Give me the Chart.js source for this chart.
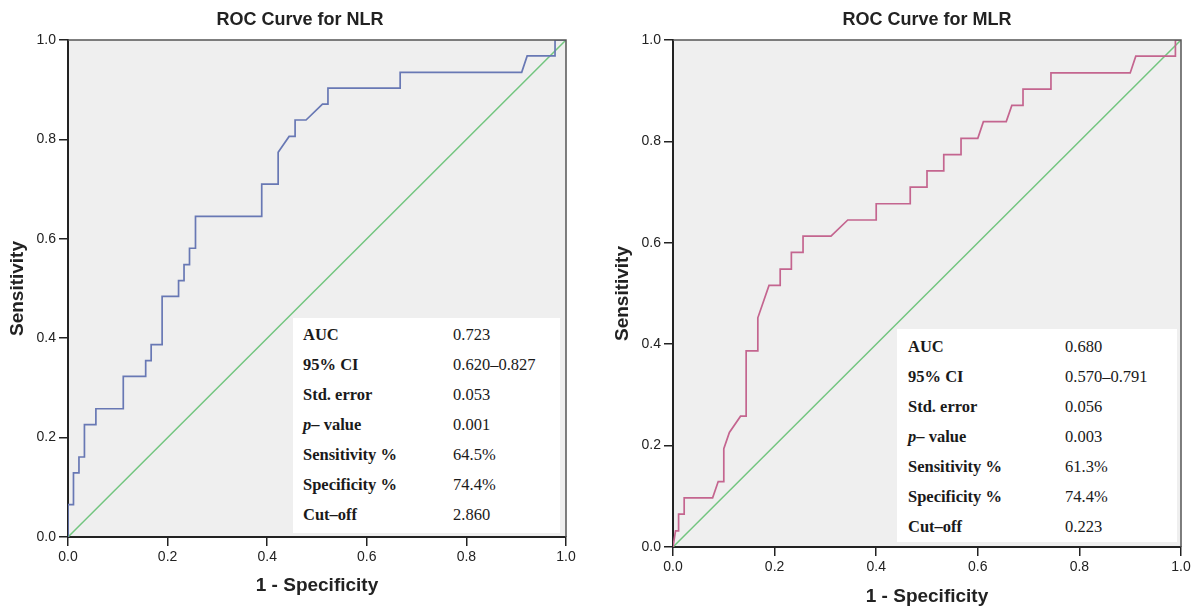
<!DOCTYPE html>
<html lang="en">
<head>
    <meta charset="UTF-8">
    <title>ROC Curves - NLR and MLR</title>
    <script src="https://cdn.jsdelivr.net/npm/chart.js"></script>
    <style>
        body { margin: 0; width: 1202px; height: 610px; position: relative; background: #fff; overflow: hidden; }
        canvas { position: absolute; top: 0; }
        .stats { position: absolute; background: #fff; font-family: "Liberation Serif", "Times New Roman", serif; font-size: 16.5px; color: #1a1a1a; }
        .stats table { border-collapse: collapse; }
        .stats td { height: 30px; padding: 0; white-space: nowrap; }
        .stats td.lbl { font-weight: bold; }
    </style>
</head>
<body>
<canvas id="nlrChart" width="600" height="610" style="left:0"></canvas>
<canvas id="mlrChart" width="602" height="610" style="left:600px"></canvas>
<div class="stats" id="nlrStats" style="left:293px; top:318px; width:267px; height:215px; padding:2px 0 0 10px; box-sizing:border-box"></div>
<div class="stats" id="mlrStats" style="left:897px; top:329px; width:280px; height:213px; padding:3px 0 0 11px; box-sizing:border-box"></div>

<script>
    // ROC points (1 - specificity, sensitivity)
    const nlrFpr = [0, 0, 0.011, 0.011, 0.022, 0.022, 0.033, 0.033, 0.056, 0.056, 0.111, 0.111, 0.156, 0.156, 0.167, 0.167,
        0.189, 0.189, 0.222, 0.222, 0.233, 0.233, 0.244, 0.244, 0.256, 0.256, 0.389, 0.389, 0.422, 0.422, 0.444, 0.456,
        0.456, 0.478, 0.511, 0.522, 0.522, 0.667, 0.667, 0.911, 0.922, 0.978, 0.978, 1];
    const nlrTpr = [0, 0.065, 0.065, 0.129, 0.129, 0.161, 0.161, 0.226, 0.226, 0.258, 0.258, 0.323, 0.323, 0.355, 0.355, 0.387,
        0.387, 0.484, 0.484, 0.516, 0.516, 0.548, 0.548, 0.581, 0.581, 0.645, 0.645, 0.710, 0.710, 0.774, 0.806, 0.806,
        0.839, 0.839, 0.871, 0.871, 0.903, 0.903, 0.935, 0.935, 0.968, 0.968, 1, 1];

    const mlrFpr = [0, 0.005, 0.011, 0.011, 0.022, 0.022, 0.078, 0.089, 0.100, 0.100, 0.111, 0.133, 0.144, 0.144, 0.167, 0.167,
        0.189, 0.211, 0.211, 0.233, 0.233, 0.256, 0.256, 0.311, 0.344, 0.400, 0.400, 0.467, 0.467, 0.500, 0.500, 0.533,
        0.533, 0.567, 0.567, 0.600, 0.611, 0.656, 0.667, 0.689, 0.689, 0.744, 0.744, 0.900, 0.911, 0.989, 0.989, 1];
    const mlrTpr = [0, 0.032, 0.032, 0.065, 0.065, 0.097, 0.097, 0.129, 0.129, 0.194, 0.226, 0.258, 0.258, 0.387, 0.387, 0.452,
        0.516, 0.516, 0.548, 0.548, 0.581, 0.581, 0.613, 0.613, 0.645, 0.645, 0.677, 0.677, 0.710, 0.710, 0.742, 0.742,
        0.774, 0.774, 0.806, 0.806, 0.839, 0.839, 0.871, 0.871, 0.903, 0.903, 0.935, 0.935, 0.968, 0.968, 1, 1];

    const refFpr = [0, 1];
    const refTpr = [0, 1];

    const statLabels = ['AUC', '95% CI', 'Std. error', 'p– value', 'Sensitivity %', 'Specificity %', 'Cut–off'];
    const nlrStats = ['0.723', '0.620–0.827', '0.053', '0.001', '64.5%', '74.4%', '2.860'];
    const mlrStats = ['0.680', '0.570–0.791', '0.056', '0.003', '61.3%', '74.4%', '0.223'];

    Chart.defaults.font.family = '"Liberation Sans", Arial, sans-serif';
    Chart.defaults.color = '#222';

    // grey plot area and the box round it
    const plotFrame = {
        id: 'plotFrame',
        beforeDraw(chart) {
            const a = chart.chartArea, ctx = chart.ctx;
            ctx.save();
            ctx.fillStyle = '#efefef';
            ctx.fillRect(a.left, a.top, a.right - a.left, a.bottom - a.top);
            ctx.restore();
        },
        afterDatasetsDraw(chart) {
            const a = chart.chartArea, ctx = chart.ctx;
            ctx.save();
            ctx.strokeStyle = '#555';
            ctx.lineWidth = 1.5;
            ctx.beginPath();
            ctx.moveTo(a.left, a.top);
            ctx.lineTo(a.right, a.top);
            ctx.lineTo(a.right, a.bottom);
            ctx.stroke();
            ctx.restore();
        }
    };

    function points(xs, ys) {
        return xs.map((x, i) => ({ x: x, y: ys[i] }));
    }

    function makeChart(id, title, fpr, tpr, curveColor, box) {
        const axis = (w, h, titleText, titlePad) => ({
            type: 'linear',
            min: 0,
            max: 1,
            afterFit(scale) {
                if (w) scale.width = w;
                if (h) scale.height = h;
            },
            ticks: {
                stepSize: 0.2,
                padding: 3,
                font: { size: 14 },
                color: '#222',
                callback: v => v.toFixed(1)
            },
            grid: { drawOnChartArea: false, drawTicks: true, tickLength: 9, color: '#222', lineWidth: 1.5 },
            border: { display: true, color: '#222', width: 2 },
            title: { display: true, text: titleText, font: { size: 19, weight: 'bold' }, color: '#222', padding: titlePad }
        });

        const scales = {
            x: axis(0, box.xh, '1 - Specificity', { top: 0, bottom: box.xtPad }),
            y: axis(box.yw, 0, 'Sensitivity', { top: box.ytPad, bottom: 0 })
        };
        // empty right-hand axis keeps the space to the right of the plot
        if (box.rightAxis) {
            scales.y2 = {
                type: 'linear', position: 'right', min: 0, max: 1,
                afterFit(scale) { scale.width = box.rightAxis; },
                ticks: { display: false },
                grid: { display: false, drawTicks: false },
                border: { display: false }
            };
        }

        return new Chart(document.getElementById(id), {
            type: 'scatter',
            data: {
                datasets: [
                    {
                        data: points(fpr, tpr),
                        showLine: true,
                        borderColor: curveColor,
                        borderWidth: 1.7,
                        pointRadius: 0,
                        order: 1
                    },
                    {
                        data: points(refFpr, refTpr),
                        showLine: true,
                        borderColor: '#72c57f',
                        borderWidth: 1.5,
                        pointRadius: 0,
                        order: 2
                    }
                ]
            },
            options: {
                responsive: false,
                animation: false,
                layout: { padding: { left: 0, right: box.right, top: 0, bottom: 0 } },
                scales: scales,
                plugins: {
                    legend: { display: false },
                    tooltip: { enabled: false },
                    title: {
                        display: true,
                        text: title,
                        fullSize: box.fullTitle,
                        font: { size: 18, weight: 'bold' },
                        color: '#222',
                        padding: { top: 9, bottom: 9.4 }
                    }
                }
            },
            plugins: [plotFrame]
        });
    }

    function fillStats(id, values, labelWidth) {
        let html = '<table>';
        statLabels.forEach((label, i) => {
            const shown = label.startsWith('p–') ? '<i>p</i>' + label.slice(1) : label;
            html += `<tr><td class="lbl" style="width:${labelWidth}px">${shown}</td><td>${values[i]}</td></tr>`;
        });
        html += '</table>';
        document.getElementById(id).innerHTML = html;
    }

    makeChart('nlrChart', 'ROC Curve for NLR', nlrFpr, nlrTpr, '#6878b4',
        { right: 0, rightAxis: 34, fullTitle: true, xh: 73, yw: 68, xtPad: 12.6, ytPad: 6.6 });
    makeChart('mlrChart', 'ROC Curve for MLR', mlrFpr, mlrTpr, '#c4658f',
        { right: 21, rightAxis: 0, fullTitle: false, xh: 63, yw: 73, xtPad: 1.6, ytPad: 11.6 });

    fillStats('nlrStats', nlrStats, 150);
    fillStats('mlrStats', mlrStats, 157);
</script>
</body>
</html>
